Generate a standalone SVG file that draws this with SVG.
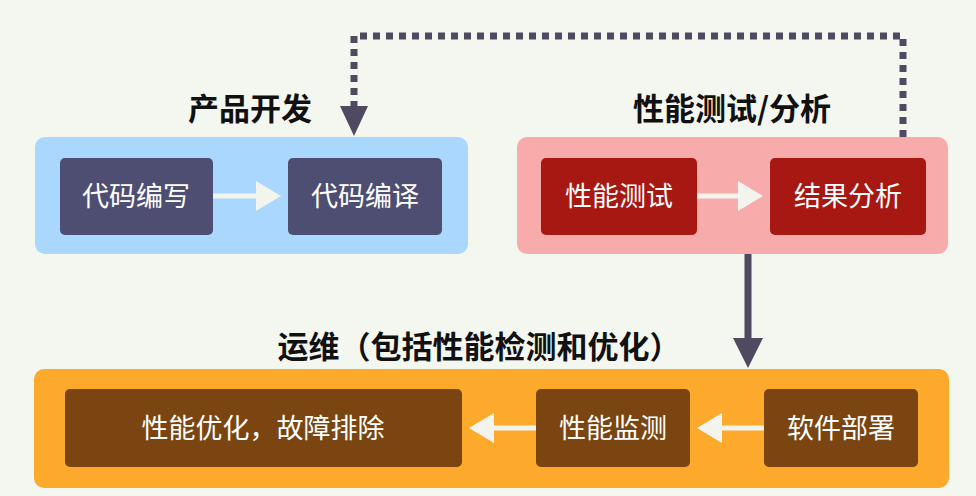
<svg xmlns="http://www.w3.org/2000/svg" width="976" height="496" viewBox="0 0 976 496">
<style>
text{font-family:"Noto Sans CJK SC","Noto Sans",sans-serif;text-anchor:middle}
.t{font-size:31px;font-weight:bold;fill:#111}
.n{font-size:27px;fill:#fff}
.w{stroke:#f4f4ee;stroke-width:5;fill:none}
</style>
<defs>
<marker id="wa" markerWidth="5" markerHeight="6" refX="4" refY="3" orient="auto" markerUnits="strokeWidth"><path d="M0,0L5,3L0,6z" fill="#f4f4ee"/></marker>
<marker id="da" markerWidth="5" markerHeight="5" refX="4.5" refY="2.5" orient="auto" markerUnits="strokeWidth"><path d="M0,0L5,2.5L0,5z" fill="#4f4a60"/></marker>
</defs>
<rect width="976" height="496" fill="#f4f6f0"/>
<g id="connectors">
<path d="M903,137V36H354V120" stroke="#4f4a60" stroke-width="7" stroke-dasharray="7,6" fill="none"/>
<path d="M354,106l-14,0l14,30l14,-30z" fill="#4f4a60"/>
</g>
<g id="dev">
<rect x="35" y="137" width="433" height="117" rx="10" fill="#a9d7fe"/>
<text class="t" x="250" y="120">产品开发</text>
<rect x="60" y="158" width="153" height="77" rx="5" fill="#4e4e73"/>
<text class="n" x="136" y="206">代码编写</text>
<rect x="288" y="158" width="154" height="77" rx="5" fill="#4e4e73"/>
<text class="n" x="365" y="206">代码编译</text>
</g>
<g id="test">
<rect x="517" y="137" width="431" height="117" rx="10" fill="#f8abab"/>
<text class="t" x="732" y="120">性能测试/分析</text>
<rect x="541" y="158" width="156" height="77" rx="5" fill="#a71812"/>
<text class="n" x="619" y="206">性能测试</text>
<rect x="770" y="158" width="156" height="77" rx="5" fill="#a71812"/>
<text class="n" x="848" y="206">结果分析</text>
</g>
<g id="ops">
<rect x="34" y="369" width="915" height="119" rx="10" fill="#fca92c"/>
<text class="t" x="479" y="358">运维（包括性能检测和优化）</text>
<rect x="65" y="389" width="397" height="78" rx="5" fill="#7a4510"/>
<text class="n" x="263" y="438">性能优化，故障排除</text>
<rect x="536" y="389" width="154" height="78" rx="5" fill="#7a4510"/>
<text class="n" x="613" y="438">性能监测</text>
<rect x="764" y="389" width="154" height="78" rx="5" fill="#7a4510"/>
<text class="n" x="841" y="438">软件部署</text>
</g>
<g id="connectors2">
<path class="w" d="M213,196H276" marker-end="url(#wa)"/>
<path class="w" d="M697,196H758" marker-end="url(#wa)"/>
<path class="w" d="M764,428H702" marker-end="url(#wa)"/>
<path class="w" d="M536,428H474" marker-end="url(#wa)"/>
<path d="M748,254V340" stroke="#4f4a60" stroke-width="7"/>
<path d="M733,338h30l-15,30z" fill="#4f4a60"/>
</g>
</svg>
